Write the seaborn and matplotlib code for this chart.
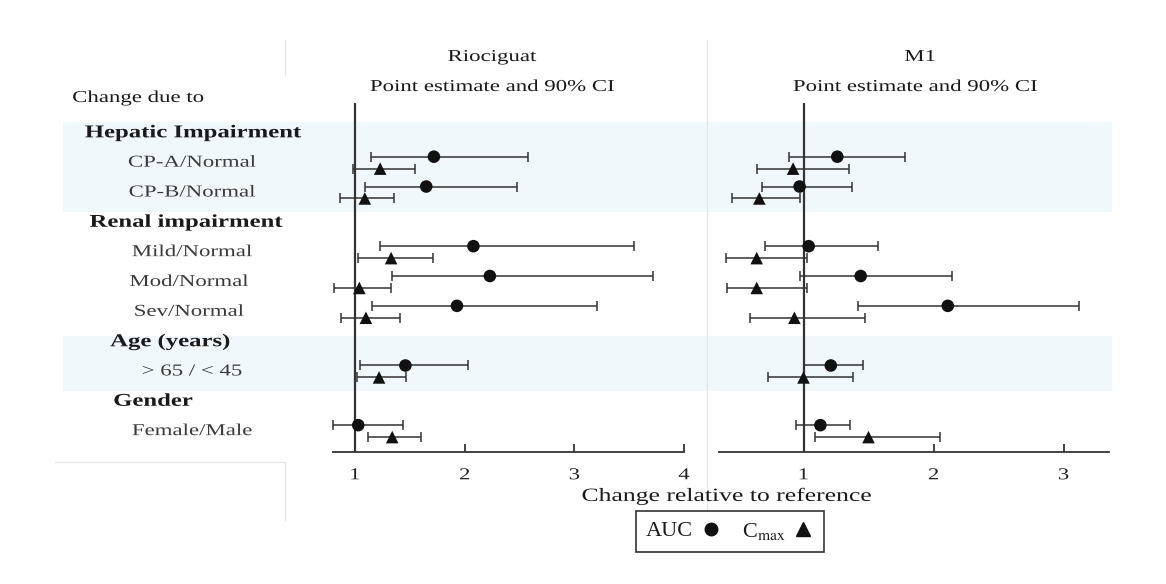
import matplotlib
matplotlib.use("Agg")
import matplotlib.pyplot as plt
import matplotlib.patheffects as pe
from matplotlib.transforms import Affine2D, blended_transform_factory
from matplotlib.patches import Rectangle
from matplotlib.lines import Line2D
import seaborn as sns
import pandas as pd

# rows of the forest plot (top to bottom)
headers = ["Hepatic Impairment", "Renal impairment", "Age (years)", "Gender"]
header_rows = [0, 3, 7, 9]
items = ["CP-A/Normal", "CP-B/Normal", "Mild/Normal", "Mod/Normal",
         "Sev/Normal", "> 65 / < 45", "Female/Male"]
item_rows = [1, 2, 4, 5, 6, 8, 10]

# riociguat: point estimate and 90% CI
rio_auc = [1.72, 1.65, 2.08, 2.23, 1.93, 1.46, 1.03]
rio_auc_lo = [1.15, 1.09, 1.23, 1.34, 1.16, 1.05, 0.80]
rio_auc_hi = [2.58, 2.48, 3.54, 3.72, 3.21, 2.03, 1.44]
rio_cmax = [1.23, 1.09, 1.33, 1.04, 1.10, 1.22, 1.34]
rio_cmax_lo = [0.98, 0.86, 1.03, 0.81, 0.87, 1.02, 1.12]
rio_cmax_hi = [1.55, 1.36, 1.71, 1.33, 1.41, 1.47, 1.60]

# M1 metabolite
m1_auc = [1.26, 0.97, 1.04, 1.44, 2.11, 1.21, 1.13]
m1_auc_lo = [0.89, 0.68, 0.70, 0.97, 1.42, 1.00, 0.94]
m1_auc_hi = [1.78, 1.37, 1.57, 2.14, 3.12, 1.46, 1.36]
m1_cmax = [0.92, 0.66, 0.64, 0.64, 0.93, 1.00, 1.50]
m1_cmax_lo = [0.64, 0.45, 0.40, 0.41, 0.59, 0.73, 1.09]
m1_cmax_hi = [1.35, 0.97, 1.03, 1.03, 1.47, 1.38, 2.05]


def long_df(auc, auc_lo, auc_hi, cmax, cmax_lo, cmax_hi):
    a = pd.DataFrame({"row": item_rows, "est": auc, "lo": auc_lo, "hi": auc_hi, "metric": "AUC"})
    c = pd.DataFrame({"row": item_rows, "est": cmax, "lo": cmax_lo, "hi": cmax_hi, "metric": "Cmax"})
    a["y"] = a["row"] - 0.2
    c["y"] = c["row"] + 0.2
    return pd.concat([a, c], ignore_index=True)


rio_df = long_df(rio_auc, rio_auc_lo, rio_auc_hi, rio_cmax, rio_cmax_lo, rio_cmax_hi)
m1_df = long_df(m1_auc, m1_auc_lo, m1_auc_hi, m1_cmax, m1_cmax_lo, m1_cmax_hi)


class Stretch(pe.AbstractPathEffect):
    # the original figure is stretched sideways, widen the text the same way
    def __init__(self, sx=1.37):
        super().__init__()
        self.sx = sx

    def draw_path(self, renderer, gc, tpath, affine, rgbFace=None):
        ext = tpath.get_extents()
        cx = (ext.x0 + ext.x1) / 2
        t = Affine2D().translate(-cx, 0).scale(self.sx, 1).translate(cx, 0)
        renderer.draw_path(gc, tpath, t + affine, rgbFace)


sns.set_theme(style="white")
plt.rcParams["font.family"] = ["Liberation Serif", "DejaVu Serif"]
plt.rcParams["mathtext.fontset"] = "stix"

W, H = 1166, 584
fig = plt.figure(figsize=(W / 100, H / 100), dpi=100)
fig.patch.set_facecolor("white")

axL = fig.add_axes([333 / W, 1 - 452 / H, 351 / W, 349 / H])
axR = fig.add_axes([719 / W, 1 - 452 / H, 390 / W, 349 / H])

for ax, df, xlim, ticks in [(axL, rio_df, (0.8, 4.0), [1, 2, 3, 4]),
                            (axR, m1_df, (0.35, 3.35), [1, 2, 3])]:
    ax.set_facecolor("none")
    ax.errorbar(df["est"], df["y"], xerr=[df["est"] - df["lo"], df["hi"] - df["est"]],
                fmt="none", ecolor="#333333", elinewidth=1.1, capsize=3.5, capthick=1.1,
                zorder=2, clip_on=False)
    sns.scatterplot(data=df, x="est", y="y", style="metric",
                    markers={"AUC": "o", "Cmax": "^"}, color="#111111", s=82,
                    linewidth=0, legend=False, ax=ax, zorder=3, clip_on=False)
    ax.axvline(1, color="#333333", lw=1.6, zorder=1)
    ax.set_xlim(*xlim)
    ax.set_ylim(10.7, -1.0)
    ax.set_xticks(ticks)
    ax.set_yticks([])
    ax.set_xlabel("")
    ax.set_ylabel("")
    for side in ["top", "left", "right"]:
        ax.spines[side].set_visible(False)
    ax.spines["bottom"].set_color("#333333")
    ax.spines["bottom"].set_linewidth(1.3)
    ax.tick_params(axis="x", direction="in", length=6, width=1.2, pad=11,
                   labelsize=12, colors="#222222", bottom=True)
    for lbl in ax.get_xticklabels():
        lbl.set_path_effects([Stretch()])

# shaded groups behind both panels
band_tr = blended_transform_factory(fig.transFigure, axL.transData)
for y0, y1 in [(-0.35, 2.65), (6.8, 8.65)]:
    fig.patches.append(Rectangle((63 / W, y0), (1112 - 63) / W, y1 - y0,
                                 transform=band_tr, facecolor="#f1f8fc",
                                 edgecolor="none", zorder=-2))

# row labels
for name, r in zip(headers, header_rows):
    cx = {"Hepatic Impairment": 193, "Renal impairment": 186,
          "Age (years)": 170, "Gender": 153}[name]
    fig.text(cx / W, r, name, transform=band_tr, ha="center", va="center",
             fontsize=13, fontweight="bold", color="#1a1a1a", path_effects=[Stretch()])
for name, r in zip(items, item_rows):
    cx = 189 if name in ("Mod/Normal", "Sev/Normal") else 192
    fig.text(cx / W, r, name, transform=band_tr, ha="center", va="center",
             fontsize=12, color="#3a3a3a", path_effects=[Stretch()])

fig.text(138 / W, 1 - 98 / H, "Change due to", ha="center", va="center",
         fontsize=12, color="#1a1a1a", path_effects=[Stretch()])

# panel titles
for cx, title in [(492, "Riociguat"), (920, "M1")]:
    fig.text(cx / W, 1 - 57 / H, title, ha="center", va="center", fontsize=12,
             color="#1a1a1a", path_effects=[Stretch()])
for cx in [492, 915]:
    fig.text(cx / W, 1 - 87 / H, "Point estimate and 90% CI", ha="center", va="center",
             fontsize=12, color="#1a1a1a", path_effects=[Stretch()])

fig.text(727 / W, 1 - 496 / H, "Change relative to reference", ha="center", va="center",
         fontsize=13.5, color="#1a1a1a", path_effects=[Stretch()])

# faint table borders left over in the source figure
for xs, ys in [([285, 285], [40, 75]), ([707, 707], [40, 518]),
               ([55, 285], [462, 462]), ([285, 285], [462, 520])]:
    fig.add_artist(Line2D([x / W for x in xs], [1 - y / H for y in ys],
                          transform=fig.transFigure, color="#e6e6e6", lw=1, zorder=-1))

handles = [Line2D([], [], marker="o", ls="", color="#111111", markersize=9),
           Line2D([], [], marker="^", ls="", color="#111111", markersize=10)]
leg = fig.legend(handles, ["AUC", r"C$_{\mathrm{max}}$"], loc="center",
                 bbox_to_anchor=(730 / W, 1 - 531 / H), ncol=2, markerfirst=False,
                 frameon=True, fancybox=False, edgecolor="#333333", fontsize=16,
                 handlelength=1.0, handletextpad=0.3, columnspacing=0.9,
                 borderpad=0.45, framealpha=1)
leg.get_frame().set_linewidth(1.2)
for t in leg.get_texts():
    t.set_color("#1a1a1a")

fig.savefig("out.png", dpi=100)
